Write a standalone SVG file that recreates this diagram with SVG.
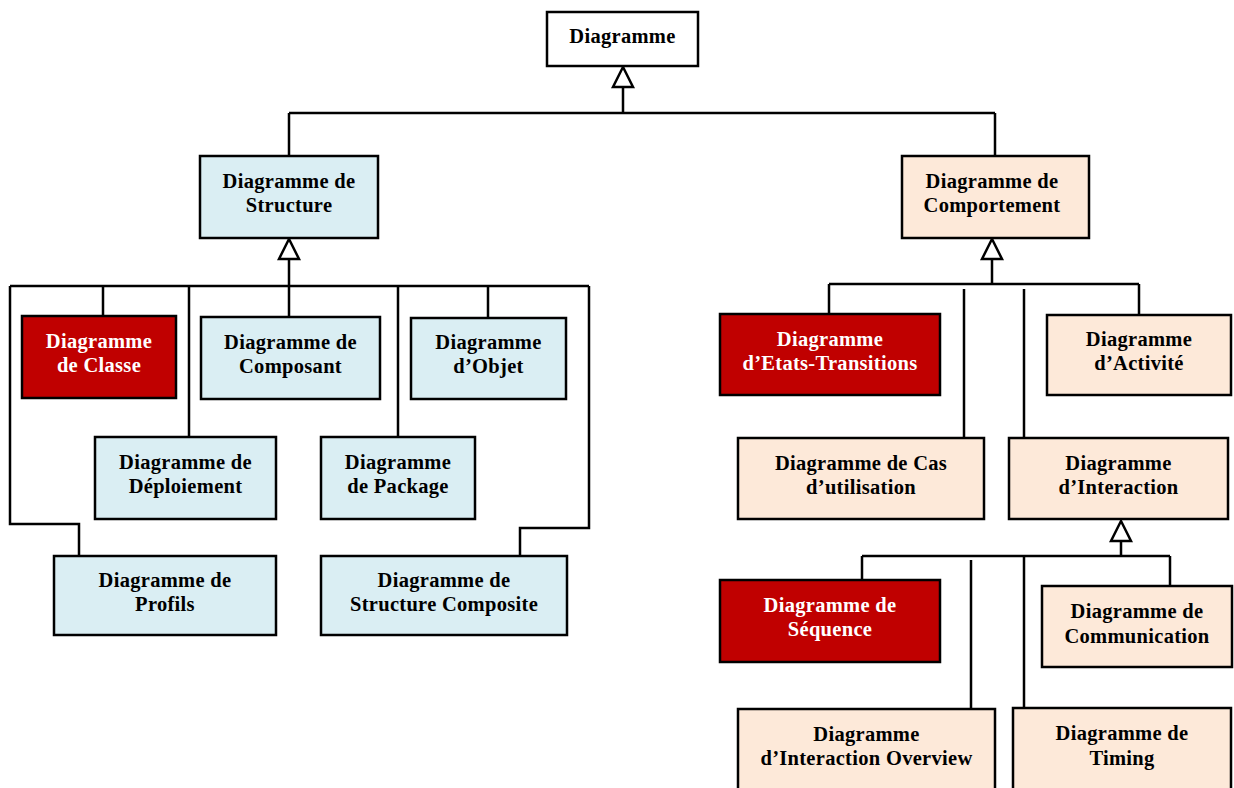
<svg xmlns="http://www.w3.org/2000/svg" width="1234" height="788" viewBox="0 0 1234 788">
<style>
.b{stroke:#000;stroke-width:2.5}
.w{fill:#fff}.s{fill:#DAEEF3}.c{fill:#FDE9D9}.r{fill:#C00000}
text{font-family:"Liberation Serif","Times New Roman",serif;font-weight:bold;font-size:20.5px;letter-spacing:0.3px;text-anchor:middle;fill:#000}
.rt{fill:#fff}
.ln{fill:none;stroke:#000;stroke-width:2.5}
.tri{fill:#fff;stroke:#000;stroke-width:2.5;stroke-linejoin:miter}
</style>
<rect width="1234" height="788" fill="#fff"/>
<g id="connectors">
<path class="ln" d="M623 87V113M289 113H995M289 113V156M995 113V156"/>
<path class="ln" d="M289 259V286M10 286H589M10 286V524H79V556M103 286V316M189 286V437M289 286V317M398 286V437M488 286V318M589 286V528H520V556"/>
<path class="ln" d="M992 259V284M829 284H1139M829 284V314M1139 284V315M964 289V438M1024 289V438"/>
<path class="ln" d="M1121 541V556M862 556H1170M862 556V580M1170 556V586M971 560V709M1024 556V708"/>
<polygon class="tri" points="623,67 613,87 633,87"/>
<polygon class="tri" points="289,239 279,259 299,259"/>
<polygon class="tri" points="992,239 982,259 1002,259"/>
<polygon class="tri" points="1121,521 1111,541 1131,541"/>
</g>
<g id="diagramme"><rect class="b w" x="547" y="12" width="151" height="54"/><text x="622.5" y="43">Diagramme</text></g>
<g id="structure"><rect class="b s" x="200" y="156" width="178" height="82"/><text x="289" y="188">Diagramme de</text><text x="289" y="212">Structure</text></g>
<g id="comportement"><rect class="b c" x="902" y="156" width="187" height="82"/><text x="992" y="188">Diagramme de</text><text x="992" y="212">Comportement</text></g>
<g id="classe"><rect class="b r" x="22" y="316" width="154" height="82"/><text class="rt" x="99" y="348">Diagramme</text><text class="rt" x="99" y="372">de Classe</text></g>
<g id="composant"><rect class="b s" x="201" y="317" width="179" height="82"/><text x="290.5" y="349">Diagramme de</text><text x="290.5" y="373">Composant</text></g>
<g id="objet"><rect class="b s" x="411" y="318" width="155" height="81"/><text x="488.5" y="349">Diagramme</text><text x="488.5" y="373">d’Objet</text></g>
<g id="deploiement"><rect class="b s" x="95" y="437" width="181" height="82"/><text x="185.5" y="469">Diagramme de</text><text x="185.5" y="493">Déploiement</text></g>
<g id="package"><rect class="b s" x="321" y="437" width="154" height="82"/><text x="398" y="469">Diagramme</text><text x="398" y="493">de Package</text></g>
<g id="profils"><rect class="b s" x="54" y="556" width="222" height="79"/><text x="165" y="587">Diagramme de</text><text x="165" y="611">Profils</text></g>
<g id="composite"><rect class="b s" x="321" y="556" width="246" height="79"/><text x="444" y="587">Diagramme de</text><text x="444" y="611">Structure Composite</text></g>
<g id="etats"><rect class="b r" x="720" y="314" width="220" height="81"/><text class="rt" x="830" y="346">Diagramme</text><text class="rt" x="830" y="370">d’Etats-Transitions</text></g>
<g id="activite"><rect class="b c" x="1047" y="315" width="184" height="80"/><text x="1139" y="346">Diagramme</text><text x="1139" y="370">d’Activité</text></g>
<g id="cas"><rect class="b c" x="738" y="438" width="246" height="81"/><text x="861" y="470">Diagramme de Cas</text><text x="861" y="494">d’utilisation</text></g>
<g id="interaction"><rect class="b c" x="1009" y="438" width="219" height="81"/><text x="1118.5" y="470">Diagramme</text><text x="1118.5" y="494">d’Interaction</text></g>
<g id="sequence"><rect class="b r" x="720" y="580" width="220" height="82"/><text class="rt" x="830" y="612">Diagramme de</text><text class="rt" x="830" y="636">Séquence</text></g>
<g id="communication"><rect class="b c" x="1042" y="586" width="190" height="81"/><text x="1137" y="618">Diagramme de</text><text x="1137" y="643">Communication</text></g>
<g id="overview"><rect class="b c" x="738" y="709" width="257" height="86"/><text x="866.5" y="741">Diagramme</text><text x="866.5" y="765">d’Interaction Overview</text></g>
<g id="timing"><rect class="b c" x="1013" y="708" width="218" height="86"/><text x="1122" y="740">Diagramme de</text><text x="1122" y="765">Timing</text></g>
</svg>
